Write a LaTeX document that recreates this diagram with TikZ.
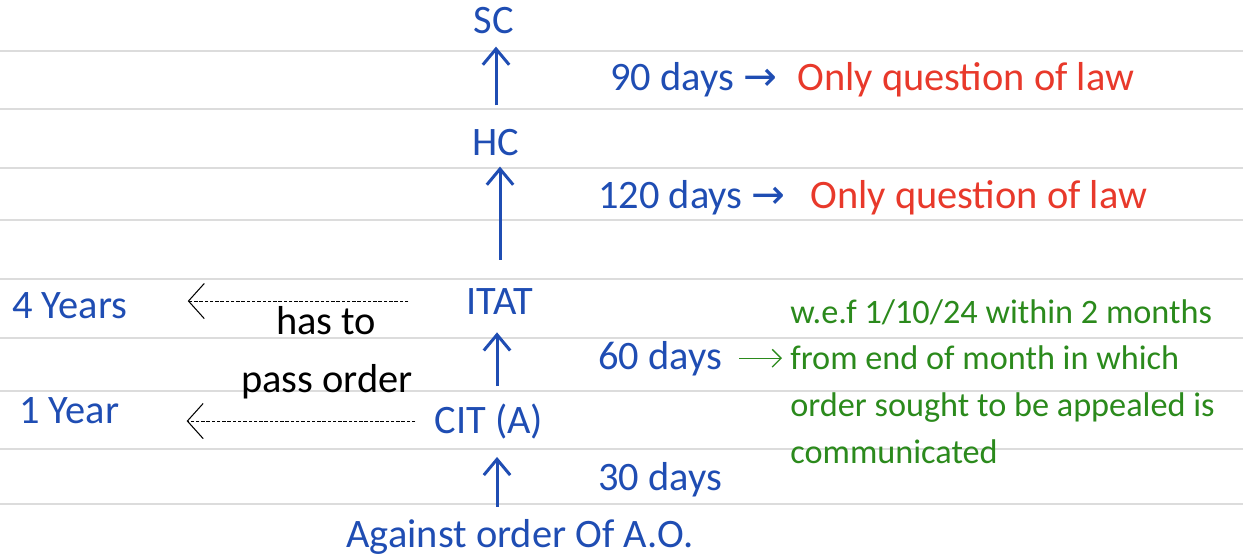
\documentclass[tikz,border=0pt]{standalone}
\usepackage{fontspec}
\setmainfont{Carlito}
\newfontfamily\symfont{DejaVu Sans}
\usepackage{xcolor}
\usetikzlibrary{positioning,arrows.meta,calc}

\definecolor{inkblue}{HTML}{1F4DB3}
\definecolor{inkred}{HTML}{E8392B}
\definecolor{inkgreen}{HTML}{2B8A1C}
\definecolor{ruled}{HTML}{DCDCDC}

\begin{document}
\begin{tikzpicture}[
        x=0.02cm, y=-0.02cm,
        ruleline/.style={draw=ruled, line width=1.2pt},
        court/.style={text=inkblue, font=\fontsize{23}{27}\selectfont, inner sep=0pt, anchor=base},
        days/.style={text=inkblue, font=\fontsize{23}{27}\selectfont, inner sep=0pt, anchor=base west},
        law/.style={text=inkred, font=\fontsize{23}{27}\selectfont, inner sep=0pt, anchor=base west},
        remark/.style={text=black, font=\fontsize{23}{27}\selectfont, inner sep=0pt, anchor=base},
        limit/.style={text=inkblue, font=\fontsize{23}{27}\selectfont, inner sep=0pt, anchor=base west},
        note/.style={text=inkgreen, font=\fontsize{19.5}{26.6}\selectfont, inner sep=0pt, anchor=north west, align=left},
        up/.style={-{Straight Barb[length=9pt, width=15pt]}, draw=inkblue, line width=1.7pt},
        back/.style={-{Straight Barb[length=9pt, width=20pt]}, draw=black, line width=0.6pt, dash pattern=on 2pt off 1pt},
        pointer/.style={-{Straight Barb[length=5pt, width=10pt]}, draw=inkgreen, line width=0.8pt}
    ]

    \useasboundingbox (0,0) rectangle (1243,558);

    % ruled paper
    \foreach \ry in {51,109,168,220,279,338,391,449,504}
        \draw[ruleline] (0,\ry) -- (1243,\ry);

    % appeal chain
    \node[court] (sc) at (494,33) {SC};
    \node[court] (hc) at (496,155) {HC};
    \node[court] (itat) at (500,314) {ITAT};
    \node[court] (cit) at (489,433) {CIT (A)};
    \node[court] (ao) at (520,547) {Against order Of A.O.};

    % time limits for appeal
    \node[days] (days90) at (610,90) {90 days {\symfont→}};
    \node[law] (law90) at (797,90) {Only question of law};
    \node[days] (days120) at (598,208) {120 days {\symfont→}};
    \node[law] (law120) at (810,208) {Only question of law};
    \node[days] (days60) at (598,369) {60 days};
    \node[days] (days30) at (598,490) {30 days};
    \node[note] (wef) at (790,299) {w.e.f 1/10/24 within 2 months\\from end of month in which\\order sought to be appealed is\\communicated};

    % time limits for passing order
    \node[limit] (yrs4) at (12,318) {4 Years};
    \node[limit] (yrs1) at (19,423) {1 Year};
    \node[remark] (hasto) at (326,334) {has to};
    \node[remark] (pass) at (327,392) {pass order};

    % arrows
    \draw[up, shorten <=0.46cm, shorten >=0.26cm] (hc.north) -- (hc.north |- sc.south);
    \draw[up, shorten <=0.56cm, shorten >=0.22cm] (itat.north) -- (itat.north |- hc.south);
    \draw[up, shorten <=0.34cm, shorten >=0.36cm] ([xshift=0.16cm]cit.north) -- ([xshift=0.16cm]cit.north |- itat.south);
    \draw[up, shorten <=0.24cm, shorten >=0.36cm] ([xshift=-0.46cm]ao.north) -- ([xshift=-0.46cm]ao.north |- cit.south);
    \draw[pointer, shorten <=0.34cm, shorten >=0.16cm] (days60.east) -- (days60.east -| wef.west);
    \draw[back, shorten <=1.16cm, shorten >=1.2cm] (itat.west) -- (itat.west -| yrs4.east);
    \draw[back, shorten <=0.38cm, shorten >=1.34cm] (cit.west) -- (cit.west -| yrs1.east);

\end{tikzpicture}
\end{document}
